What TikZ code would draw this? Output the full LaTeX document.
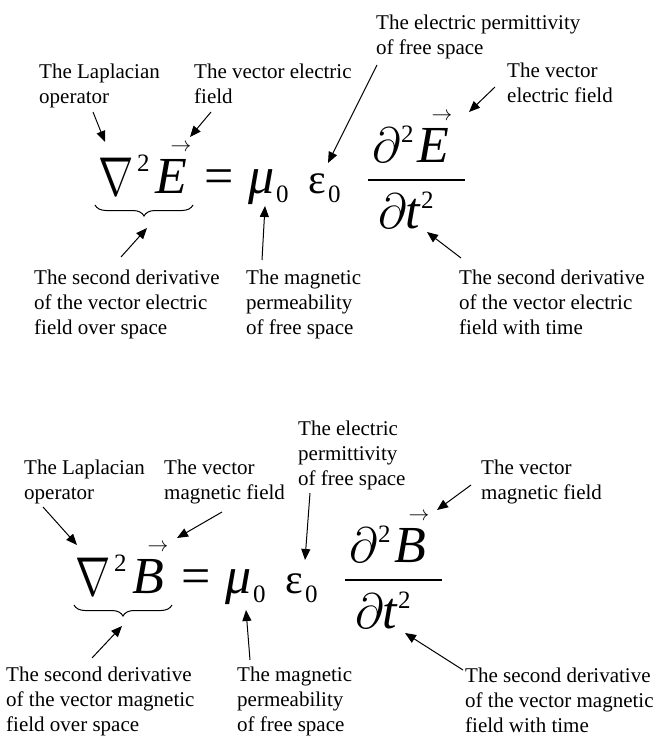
\documentclass[tikz,border=0pt]{standalone}
\usepackage{graphicx}
\usepackage{fontspec}
\setmainfont{Liberation Serif}
\usetikzlibrary{arrows.meta,decorations.pathreplacing}
\newcommand{\bignabla}{{\fontsize{24.88}{30}\selectfont\scalebox{1.7}[2.2]{$\nabla$}}}
\newcommand{\bigpartial}{{\fontsize{24.88}{30}\selectfont\scalebox{2.0}{$\partial$}}}
\begin{document}
\begin{tikzpicture}[x=1pt,y=-1pt,
  lbl/.style={anchor=north west, inner sep=0pt, align=left, font=\fontsize{21}{25}\selectfont},
  big/.style={anchor=base west, inner sep=0pt, font=\fontsize{52}{60}\selectfont},
  mid/.style={anchor=base west, inner sep=0pt, font=\fontsize{42}{50}\selectfont},
  scr/.style={anchor=base west, inner sep=0pt, font=\fontsize{25}{30}\selectfont},
  vecar/.style={anchor=center, inner sep=0pt, font=\fontsize{20.74}{26}\selectfont},
  arr/.style={-{Triangle[length=11pt,width=9pt]}, line width=1pt},
  brc/.style={decorate, decoration={brace, mirror, amplitude=11pt}, line width=1pt},
  barline/.style={line width=1.3pt}]
\useasboundingbox (0,0) rectangle (664,736);

% ---------- top equation ----------
\node[lbl] (permE) at (376,11.5) {\strut The electric permittivity\\of free space};
\node[lbl] (lapE)  at (39,60.5)  {\strut The Laplacian\\operator};
\node[lbl] (vecE)  at (194,60.5) {\strut The vector electric\\field};
\node[lbl] (vecEr) at (507,59.5) {\strut The vector\\electric field};
\node[lbl] (secE)  at (34,266.5) {\strut The second derivative\\of the vector electric\\field over space};
\node[lbl] (magE)  at (246,266.5) {\strut The magnetic\\permeability\\of free space};
\node[lbl] (secTE) at (459,266.5) {\strut The second derivative\\of the vector electric\\field with time};

\node[big] (nabE) at (98,195) {\bignabla};
\node[scr] (nab2E) at (137,171) {2};
\node[big] (EE) at (155,193) {\itshape E};
\node[vecar] (vEE) at (181,148) {$\rightarrow$};
\node[big] (eqE) at (204,193) {=};
\node[big] (muE) at (248,193) {\itshape μ};
\node[scr] (mu0E) at (276,202) {0};
\node[mid] (epE) at (308,193) {ε};
\node[scr] (ep0E) at (328,202) {0};
\coordinate (barLE) at (368,180);
\coordinate (barRE) at (465,180);
\draw[barline] (barLE) -- (barRE);
\node[big] (ndE) at (372,162) {\bigpartial};
\node[scr] (nd2E) at (401,142) {2};
\node[big] (nEE) at (417,162) {\itshape E};
\node[vecar] (nvEE) at (442,117) {$\rightarrow$};
\node[big] (ddE) at (378,228) {\bigpartial};
\node[big] (dtE) at (405,228) {\itshape t};
\node[scr] (dt2E) at (421,208) {2};
\coordinate (brLE) at (95,205);
\coordinate (brRE) at (193,205);
\draw[brc] (brLE) -- (brRE);

\coordinate (aLapE) at (93,112);   \coordinate (tLapE) at (105,142);
\coordinate (aVecE) at (211,112);  \coordinate (tVecE) at (190,137);
\coordinate (aPerE) at (377,65);   \coordinate (tPerE) at (328,163);
\coordinate (aVrE)  at (495,87);   \coordinate (tVrE)  at (469,112);
\coordinate (aSecE) at (121,257);  \coordinate (tSecE) at (147,228);
\coordinate (aMagE) at (262,260);  \coordinate (tMagE) at (265,206);
\coordinate (aStE)  at (461,258);  \coordinate (tStE)  at (427,232);
\draw[arr] (aLapE) -- (tLapE);
\draw[arr] (aVecE) -- (tVecE);
\draw[arr] (aPerE) -- (tPerE);
\draw[arr] (aVrE) -- (tVrE);
\draw[arr] (aSecE) -- (tSecE);
\draw[arr] (aMagE) -- (tMagE);
\draw[arr] (aStE) -- (tStE);

% ---------- bottom equation ----------
\node[lbl] (permB) at (298,418) {\strut The electric\\permittivity\\of free space};
\node[lbl] (lapB)  at (24,457)  {\strut The Laplacian\\operator};
\node[lbl] (vecB)  at (164,457) {\strut The vector\\magnetic field};
\node[lbl] (vecBr) at (481,457) {\strut The vector\\magnetic field};
\node[lbl] (secB)  at (6,663.5)   {\strut The second derivative\\of the vector magnetic\\field over space};
\node[lbl] (magB)  at (237,663.5) {\strut The magnetic\\permeability\\of free space};
\node[lbl] (secTB) at (465,665) {\strut The second derivative\\of the vector magnetic\\field with time};

\begin{scope}[shift={(-23,400)}]
\node[big] (nabB) at (98,195) {\bignabla};
\node[scr] (nab2B) at (137,171) {2};
\node[big] (BB) at (155,193) {\itshape B};
\node[vecar] (vBB) at (181,148) {$\rightarrow$};
\node[big] (eqB) at (204,193) {=};
\node[big] (muB) at (248,193) {\itshape μ};
\node[scr] (mu0B) at (276,202) {0};
\node[mid] (epB) at (308,193) {ε};
\node[scr] (ep0B) at (328,202) {0};
\coordinate (barLB) at (368,180);
\coordinate (barRB) at (465,180);
\draw[barline] (barLB) -- (barRB);
\node[big] (ndB) at (372,162) {\bigpartial};
\node[scr] (nd2B) at (401,142) {2};
\node[big] (nBB) at (417,162) {\itshape B};
\node[vecar] (nvBB) at (442,117) {$\rightarrow$};
\node[big] (ddB) at (378,228) {\bigpartial};
\node[big] (dtB) at (405,228) {\itshape t};
\node[scr] (dt2B) at (421,208) {2};
\coordinate (brLB) at (97,205);
\coordinate (brRB) at (195,205);
\draw[brc] (brLB) -- (brRB);
\end{scope}

\coordinate (aLapB) at (43,507);   \coordinate (tLapB) at (77,545);
\coordinate (aVecB) at (222,512);  \coordinate (tVecB) at (177,538);
\coordinate (aPerB) at (310,493);  \coordinate (tPerB) at (305,560);
\coordinate (aVrB)  at (471,485);  \coordinate (tVrB)  at (437,510);
\coordinate (aSecB) at (92,658);   \coordinate (tSecB) at (122,626);
\coordinate (aMagB) at (250,660);  \coordinate (tMagB) at (246,610);
\coordinate (aStB)  at (463,670);  \coordinate (tStB)  at (405,633);
\draw[arr] (aLapB) -- (tLapB);
\draw[arr] (aVecB) -- (tVecB);
\draw[arr] (aPerB) -- (tPerB);
\draw[arr] (aVrB) -- (tVrB);
\draw[arr] (aSecB) -- (tSecB);
\draw[arr] (aMagB) -- (tMagB);
\draw[arr] (aStB) -- (tStB);
\end{tikzpicture}
\end{document}
